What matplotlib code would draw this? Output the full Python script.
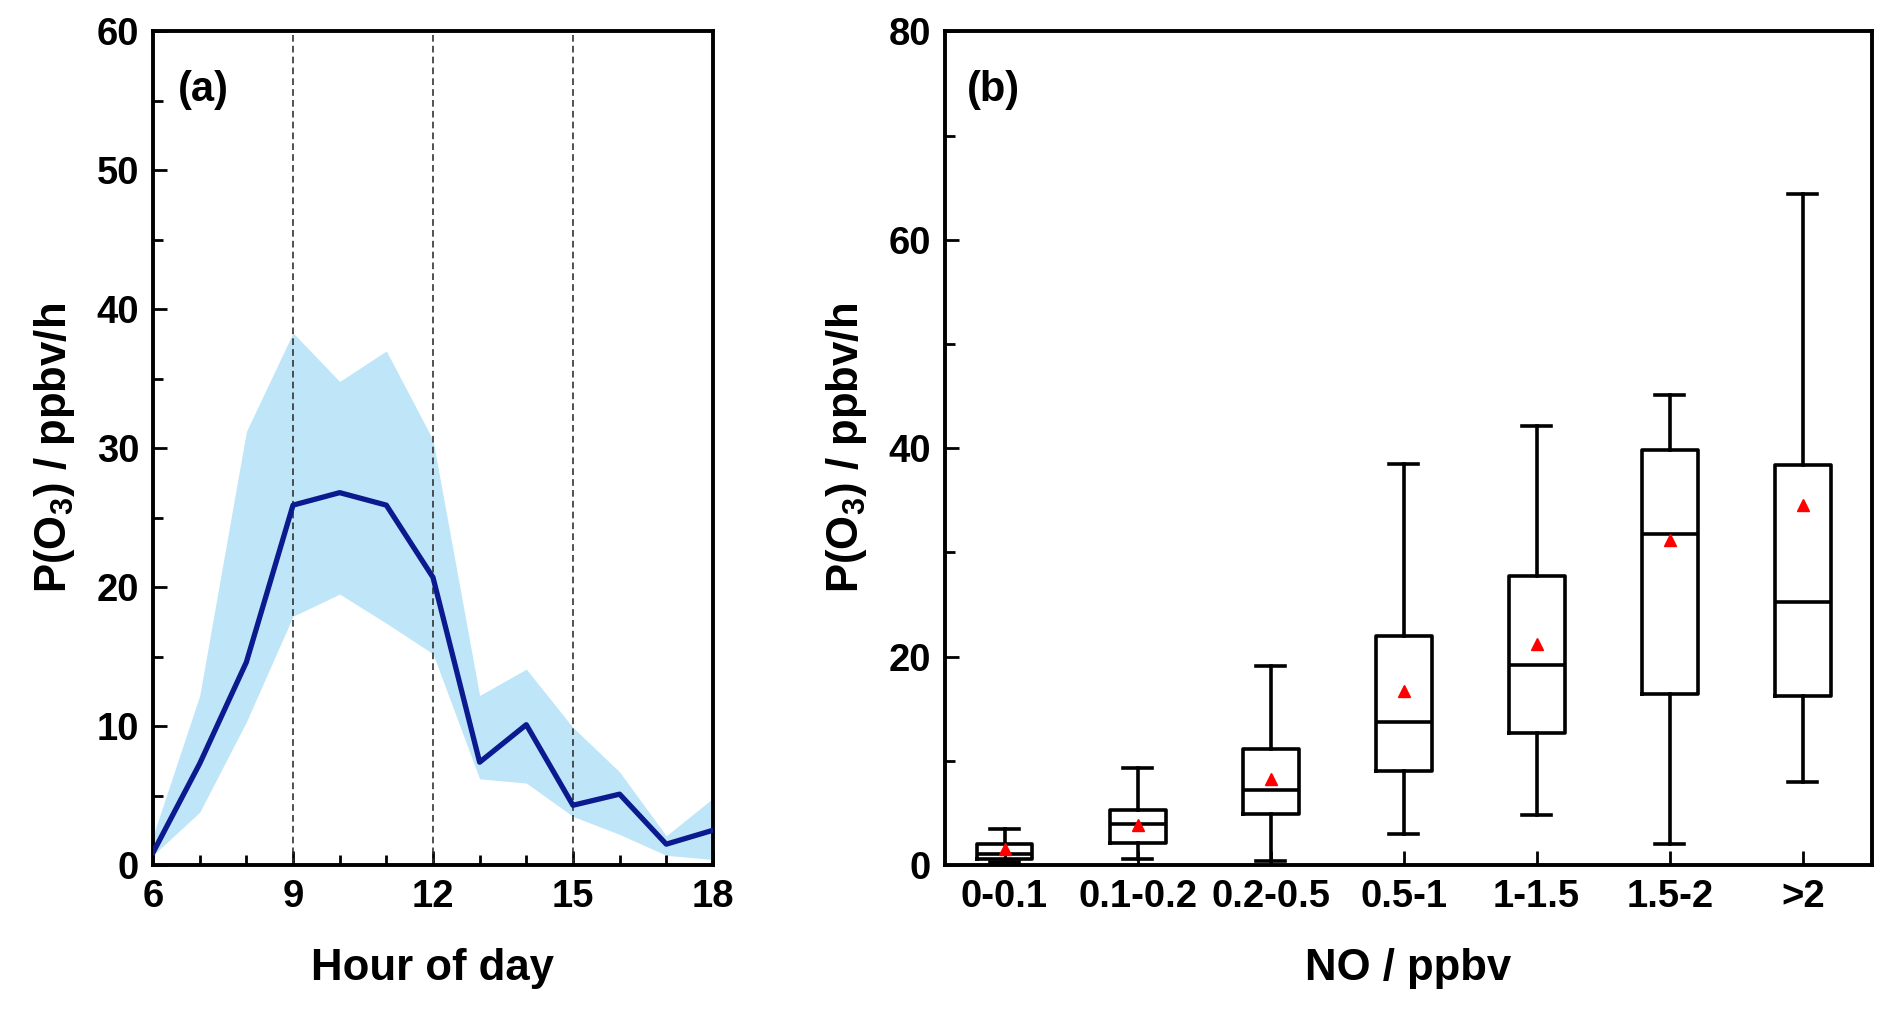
import matplotlib
matplotlib.use("Agg")
import matplotlib.pyplot as plt
from matplotlib.ticker import MultipleLocator

plt.rcParams['font.family'] = ['Liberation Sans', 'DejaVu Sans']
plt.rcParams['font.weight'] = 'bold'
plt.rcParams['mathtext.default'] = 'regular'

# Panel (a) data
hours = [6, 7, 8, 9, 10, 11, 12, 13, 14, 15, 16, 17, 18]
po3_mean = [0.9, 7.3, 14.6, 25.9, 26.8, 25.9, 20.7, 7.4, 10.1, 4.3, 5.1, 1.5, 2.5]
po3_upper = [2.1, 12.2, 31.2, 38.3, 34.8, 37.0, 30.6, 12.2, 14.1, 9.9, 6.7, 2.1, 4.8]
po3_lower = [0.7, 3.8, 10.3, 17.9, 19.5, 17.4, 15.2, 6.2, 5.9, 3.5, 2.2, 0.7, 0.4]
vlines_at = [9, 12, 15]

# Panel (b) data
no_bins = ['0-0.1', '0.1-0.2', '0.2-0.5', '0.5-1', '1-1.5', '1.5-2', '>2']
whislo = [0.25, 0.6, 0.4, 3.0, 4.8, 2.0, 8.0]
q1 = [0.6, 2.1, 4.9, 9.0, 12.7, 16.4, 16.2]
med = [1.1, 3.9, 7.2, 13.7, 19.2, 31.8, 25.2]
q3 = [2.0, 5.3, 11.1, 22.0, 27.7, 39.8, 38.4]
whishi = [3.5, 9.3, 19.1, 38.5, 42.1, 45.1, 64.4]
means = [1.5, 3.8, 8.3, 16.7, 21.2, 31.2, 34.5]

fig = plt.figure(figsize=(18.92, 10.11), dpi=100)
ax1 = fig.add_axes([0.0809, 0.1444, 0.2959, 0.8246])
ax2 = fig.add_axes([0.4995, 0.1444, 0.4899, 0.8246])

spine_lw = 2.8
for ax in (ax1, ax2):
    for s in ax.spines.values():
        s.set_linewidth(spine_lw)

tick_fs = 27.5
label_fs = 31.5

# ---- Panel (a)
ax1.fill_between(hours, po3_lower, po3_upper, color='#bee6f8', lw=0, zorder=1)
ax1.plot(hours, po3_mean, color='#0b1a8e', lw=3.8, zorder=3)
for v in vlines_at:
    ax1.axvline(v, color='#333333', lw=1.2, ls=(0, (4, 2.5)), zorder=2)
ax1.set_xlim(6, 18)
ax1.set_ylim(0, 60)
ax1.xaxis.set_major_locator(MultipleLocator(3))
ax1.xaxis.set_minor_locator(MultipleLocator(1))
ax1.yaxis.set_major_locator(MultipleLocator(10))
ax1.yaxis.set_minor_locator(MultipleLocator(5))
ax1.tick_params(which='both', direction='in', top=False, right=False,
                width=2.0, labelsize=tick_fs, pad=10)
ax1.tick_params(which='major', length=10)
ax1.tick_params(which='minor', length=7)
ax1.set_xlabel('Hour of day', fontsize=label_fs, fontweight='bold', labelpad=24)
ax1.set_ylabel('P(O$_3$) / ppbv/h', fontsize=label_fs, fontweight='bold', labelpad=14)
ax1.text(0.045, 0.93, '(a)', transform=ax1.transAxes, fontsize=30,
         fontweight='bold', va='center', ha='left')

# ---- Panel (b)
positions = list(range(1, len(no_bins) + 1))
stats = []
for i in range(len(no_bins)):
    stats.append(dict(whislo=whislo[i], q1=q1[i], med=med[i], q3=q3[i],
                      whishi=whishi[i], mean=means[i], fliers=[]))
line_kw = dict(color='black', linewidth=2.6)
ax2.bxp(stats, positions=positions, widths=0.42, showmeans=True,
        showfliers=False, boxprops=line_kw, whiskerprops=line_kw,
        capprops=line_kw, medianprops=line_kw, capwidths=0.22,
        meanprops=dict(marker='^', markerfacecolor='red',
                       markeredgecolor='red', markersize=9))
ax2.set_xlim(0.553, 7.52)
ax2.set_ylim(0, 80)
ax2.set_xticks(positions)
ax2.set_xticklabels(no_bins)
ax2.yaxis.set_major_locator(MultipleLocator(20))
ax2.yaxis.set_minor_locator(MultipleLocator(10))
ax2.tick_params(which='both', direction='in', top=False, right=False,
                width=2.0, labelsize=tick_fs, pad=10)
ax2.tick_params(which='major', length=10)
ax2.tick_params(which='minor', length=7)
ax2.tick_params(axis='x', which='minor', bottom=False)
ax2.set_xlabel('NO / ppbv', fontsize=label_fs, fontweight='bold', labelpad=24)
ax2.set_ylabel('P(O$_3$) / ppbv/h', fontsize=label_fs, fontweight='bold', labelpad=14)
ax2.text(0.024, 0.93, '(b)', transform=ax2.transAxes, fontsize=30,
         fontweight='bold', va='center', ha='left')

fig.savefig('out.png', dpi=100)
